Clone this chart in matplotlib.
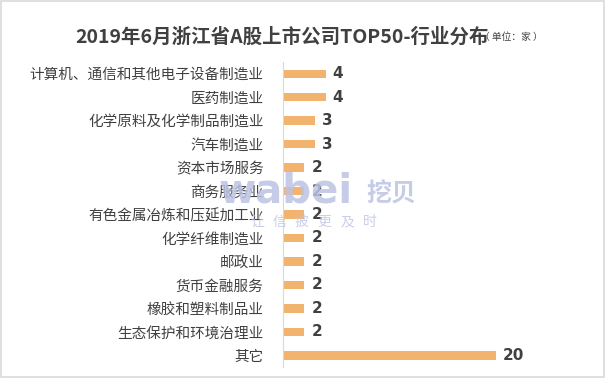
import matplotlib.pyplot as plt

plt.rcParams['font.family'] = ['Noto Sans CJK SC', 'DejaVu Sans']

# data, top to bottom as in the chart
industries = ['计算机、通信和其他电子设备制造业', '医药制造业', '化学原料及化学制品制造业',
              '汽车制造业', '资本市场服务', '商务服务业', '有色金属冶炼和压延加工业',
              '化学纤维制造业', '邮政业', '货币金融服务', '橡胶和塑料制品业',
              '生态保护和环境治理业', '其它']
counts = [4, 4, 3, 3, 2, 2, 2, 2, 2, 2, 2, 2, 20]

title = '2019年6月浙江省A股上市公司TOP50-行业分布'
unit = '（ 单位：家 ）'
slogan = '让信披更及时'

bar_color = '#F2B36F'
text_color = '#404040'
mark_color = '#BCC3E3'

fig = plt.figure(figsize=(6.05, 3.78), dpi=100)
ax = fig.add_axes([0.468, 0.029, 0.462, 0.807])

y = list(range(len(industries)))
ax.barh(y, counts, height=0.36, color=bar_color, zorder=2)
ax.set_ylim(len(industries) - 0.5, -0.5)
ax.set_xlim(0, 26.3)
ax.set_yticks(y)
ax.set_yticklabels(industries, fontsize=10.5, color=text_color)
ax.tick_params(axis='y', length=0, pad=14)
ax.set_xticks([])
for s in ['top', 'right', 'bottom']:
    ax.spines[s].set_visible(False)
ax.spines['left'].set_color('#D9D9D9')

for yi, v in zip(y, counts):
    ax.text(v + 0.65, yi, str(v), va='center', ha='left', fontsize=11,
            fontweight='bold', color=text_color, family='DejaVu Sans')

# title
fig.text(0.124, 0.902, title, fontsize=14, fontweight='bold', color=text_color,
         va='center', ha='left')
fig.text(0.793, 0.902, unit, fontsize=7, color=text_color, va='center', ha='left')

# watermark (semi-transparent, over the chart like the original)
fig.text(0.362, 0.463, 'wabei', fontsize=29, fontweight='bold', color=mark_color,
         alpha=0.85, va='baseline', ha='left', family='DejaVu Sans', zorder=5)
fig.text(0.606, 0.466, '挖贝', fontsize=18, fontweight='bold', color=mark_color,
         alpha=0.85, va='baseline', ha='left', zorder=5)
for i, ch in enumerate(slogan):
    fig.text(0.413 + i * 0.0373, 0.413, ch, fontsize=10, color=mark_color,
             alpha=0.8, va='center', ha='left', zorder=5)

# outer frame
fig.patches.append(plt.Rectangle((0.002, 0.003), 0.996, 0.994, transform=fig.transFigure,
                                 fill=False, edgecolor='#D9D9D9', linewidth=1.2))

fig.savefig('out.png', dpi=100)
